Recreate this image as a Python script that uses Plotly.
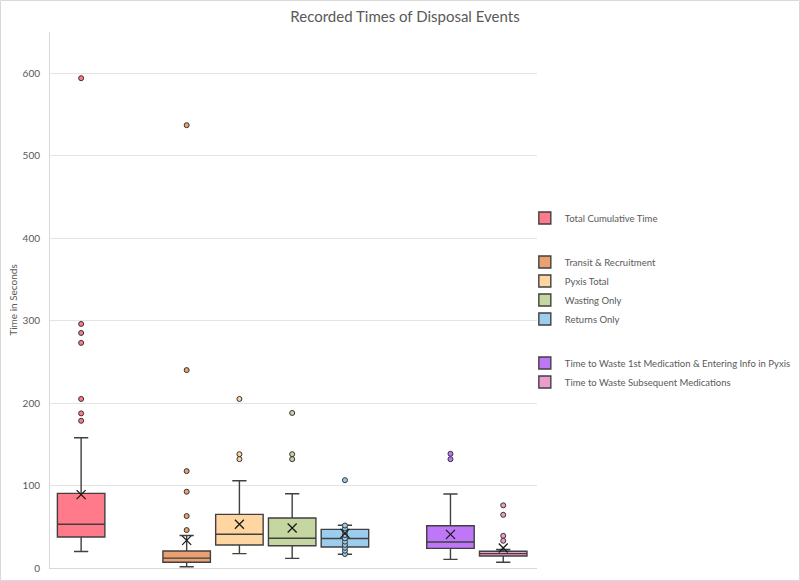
import plotly.graph_objects as go

# ---------------- data ----------------
categories = [
    "Total Cumulative Time",
    "Transit & Recruitment",
    "Pyxis Total",
    "Wasting Only",
    "Returns Only",
    "Time to Waste 1st Medication & Entering Info in Pyxis",
    "Time to Waste Subsequent Medications",
]
groups = ["g1", "g2", "g2", "g2", "g2", "g3", "g3"]

q1_vals = [37.6, 7.0, 27.9, 27.0, 25.5, 23.8, 14.5]
median_vals = [53.0, 12.0, 41.0, 36.0, 35.8, 31.5, 17.4]
q3_vals = [90.5, 20.6, 65.0, 60.6, 46.9, 51.3, 20.4]
lower_fence = [20.0, 1.6, 17.4, 11.7, 16.6, 10.5, 7.0]
upper_fence = [158.0, 39.5, 105.8, 90.0, 51.8, 89.7, 22.5]
mean_vals = [89.0, 33.5, 53.0, 48.5, 42.0, 40.8, 24.3]
outlier_vals = [
    [594, 296, 285, 273, 205, 187.5, 178.5],
    [537, 240, 117.5, 92.5, 63, 46],
    [205, 138, 132],
    [188, 138, 132],
    [106.5],
    [138.5, 132],
    [76, 64.5, 39, 33],
]
returns_inner_points = [17, 21, 24.5, 28, 32, 36, 40, 44, 48, 51.5]

y_ticks = [0, 100, 200, 300, 400, 500, 600]

# ---------------- styling / layout ----------------
slots = [0, 2, 3, 4, 5, 7, 8]
colors = ["#FF7B8C", "#E9A171", "#FFD6A2", "#C6D6A0", "#9CCDEE", "#BE77F7", "#EE9CCB"]
edge = "#404040"
text_col = "#595959"
font_family = "Lato, Open Sans, sans-serif"

fig = go.Figure()

for i, name in enumerate(categories):
    fig.add_trace(go.Box(
        name=name,
        x=[slots[i]],
        q1=[q1_vals[i]], median=[median_vals[i]], q3=[q3_vals[i]],
        lowerfence=[lower_fence[i]], upperfence=[upper_fence[i]],
        fillcolor=colors[i],
        line=dict(color=edge, width=1.4),
        width=0.9,
        whiskerwidth=0.3,
        legendgroup=groups[i],
        showlegend=True,
        hoverinfo="skip",
    ))

for i, name in enumerate(categories):
    fig.add_trace(go.Scatter(
        x=[slots[i]] * len(outlier_vals[i]), y=outlier_vals[i],
        mode="markers",
        marker=dict(symbol="circle", size=5, color=colors[i],
                    line=dict(color="#333333", width=1)),
        showlegend=False, hoverinfo="skip",
    ))

# inner points for Returns Only
ri = categories.index("Returns Only")
fig.add_trace(go.Scatter(
    x=[slots[ri]] * len(returns_inner_points), y=returns_inner_points,
    mode="markers",
    marker=dict(symbol="circle", size=5, color=colors[ri],
                line=dict(color="#333333", width=1)),
    showlegend=False, hoverinfo="skip",
))

# mean markers
fig.add_trace(go.Scatter(
    x=slots, y=mean_vals,
    mode="markers",
    marker=dict(symbol="x-thin-open", size=9, color="#1a1a1a",
                line=dict(color="#1a1a1a", width=1.3)),
    showlegend=False, hoverinfo="skip",
))

W, H = 800, 581
L, R, T, B = 50, 263, 32, 13
pw, ph = W - L - R, H - T - B

fig.update_layout(
    width=W, height=H,
    margin=dict(l=L, r=R, t=T, b=B, pad=0, autoexpand=False),
    paper_bgcolor="white", plot_bgcolor="white",
    font=dict(family=font_family, color=text_col, size=10),
    title=dict(text="Recorded Times of Disposal Events",
               x=405 / W, xanchor="center", y=1 - 17 / H, yanchor="middle",
               font=dict(size=15, color=text_col, family=font_family)),
    legend=dict(
        x=0.975, xanchor="left", y=0.5, yanchor="middle",
        traceorder="grouped", tracegroupgap=25,
        font=dict(size=9.5, color=text_col, family=font_family),
        itemwidth=30, bgcolor="rgba(0,0,0,0)",
    ),
    xaxis=dict(
        range=[-0.59, 8.64], showticklabels=False, showgrid=False,
        zeroline=False, showline=True, linecolor="#D9D9D9", linewidth=1,
        ticks="",
    ),
    yaxis=dict(
        range=[0, 650], tickvals=y_ticks, showgrid=True, gridcolor="#E3E3E3",
        gridwidth=1, zeroline=False, showline=True, linecolor="#D9D9D9",
        linewidth=1, ticks="", ticklabelstandoff=7,
        tickfont=dict(size=10, color=text_col),
        title=dict(text="Time in Seconds", standoff=3,
                   font=dict(size=10, color=text_col)),
    ),
    shapes=[dict(
        type="rect", xref="paper", yref="paper",
        x0=-(L - 0.5) / pw, x1=(W - L - 0.5) / pw,
        y0=-(B - 0.5) / ph, y1=(H - B - 0.5) / ph,
        line=dict(color="#D9D9D9", width=1), fillcolor="rgba(0,0,0,0)",
        layer="below",
    )],
)

fig.write_html("out.html")
